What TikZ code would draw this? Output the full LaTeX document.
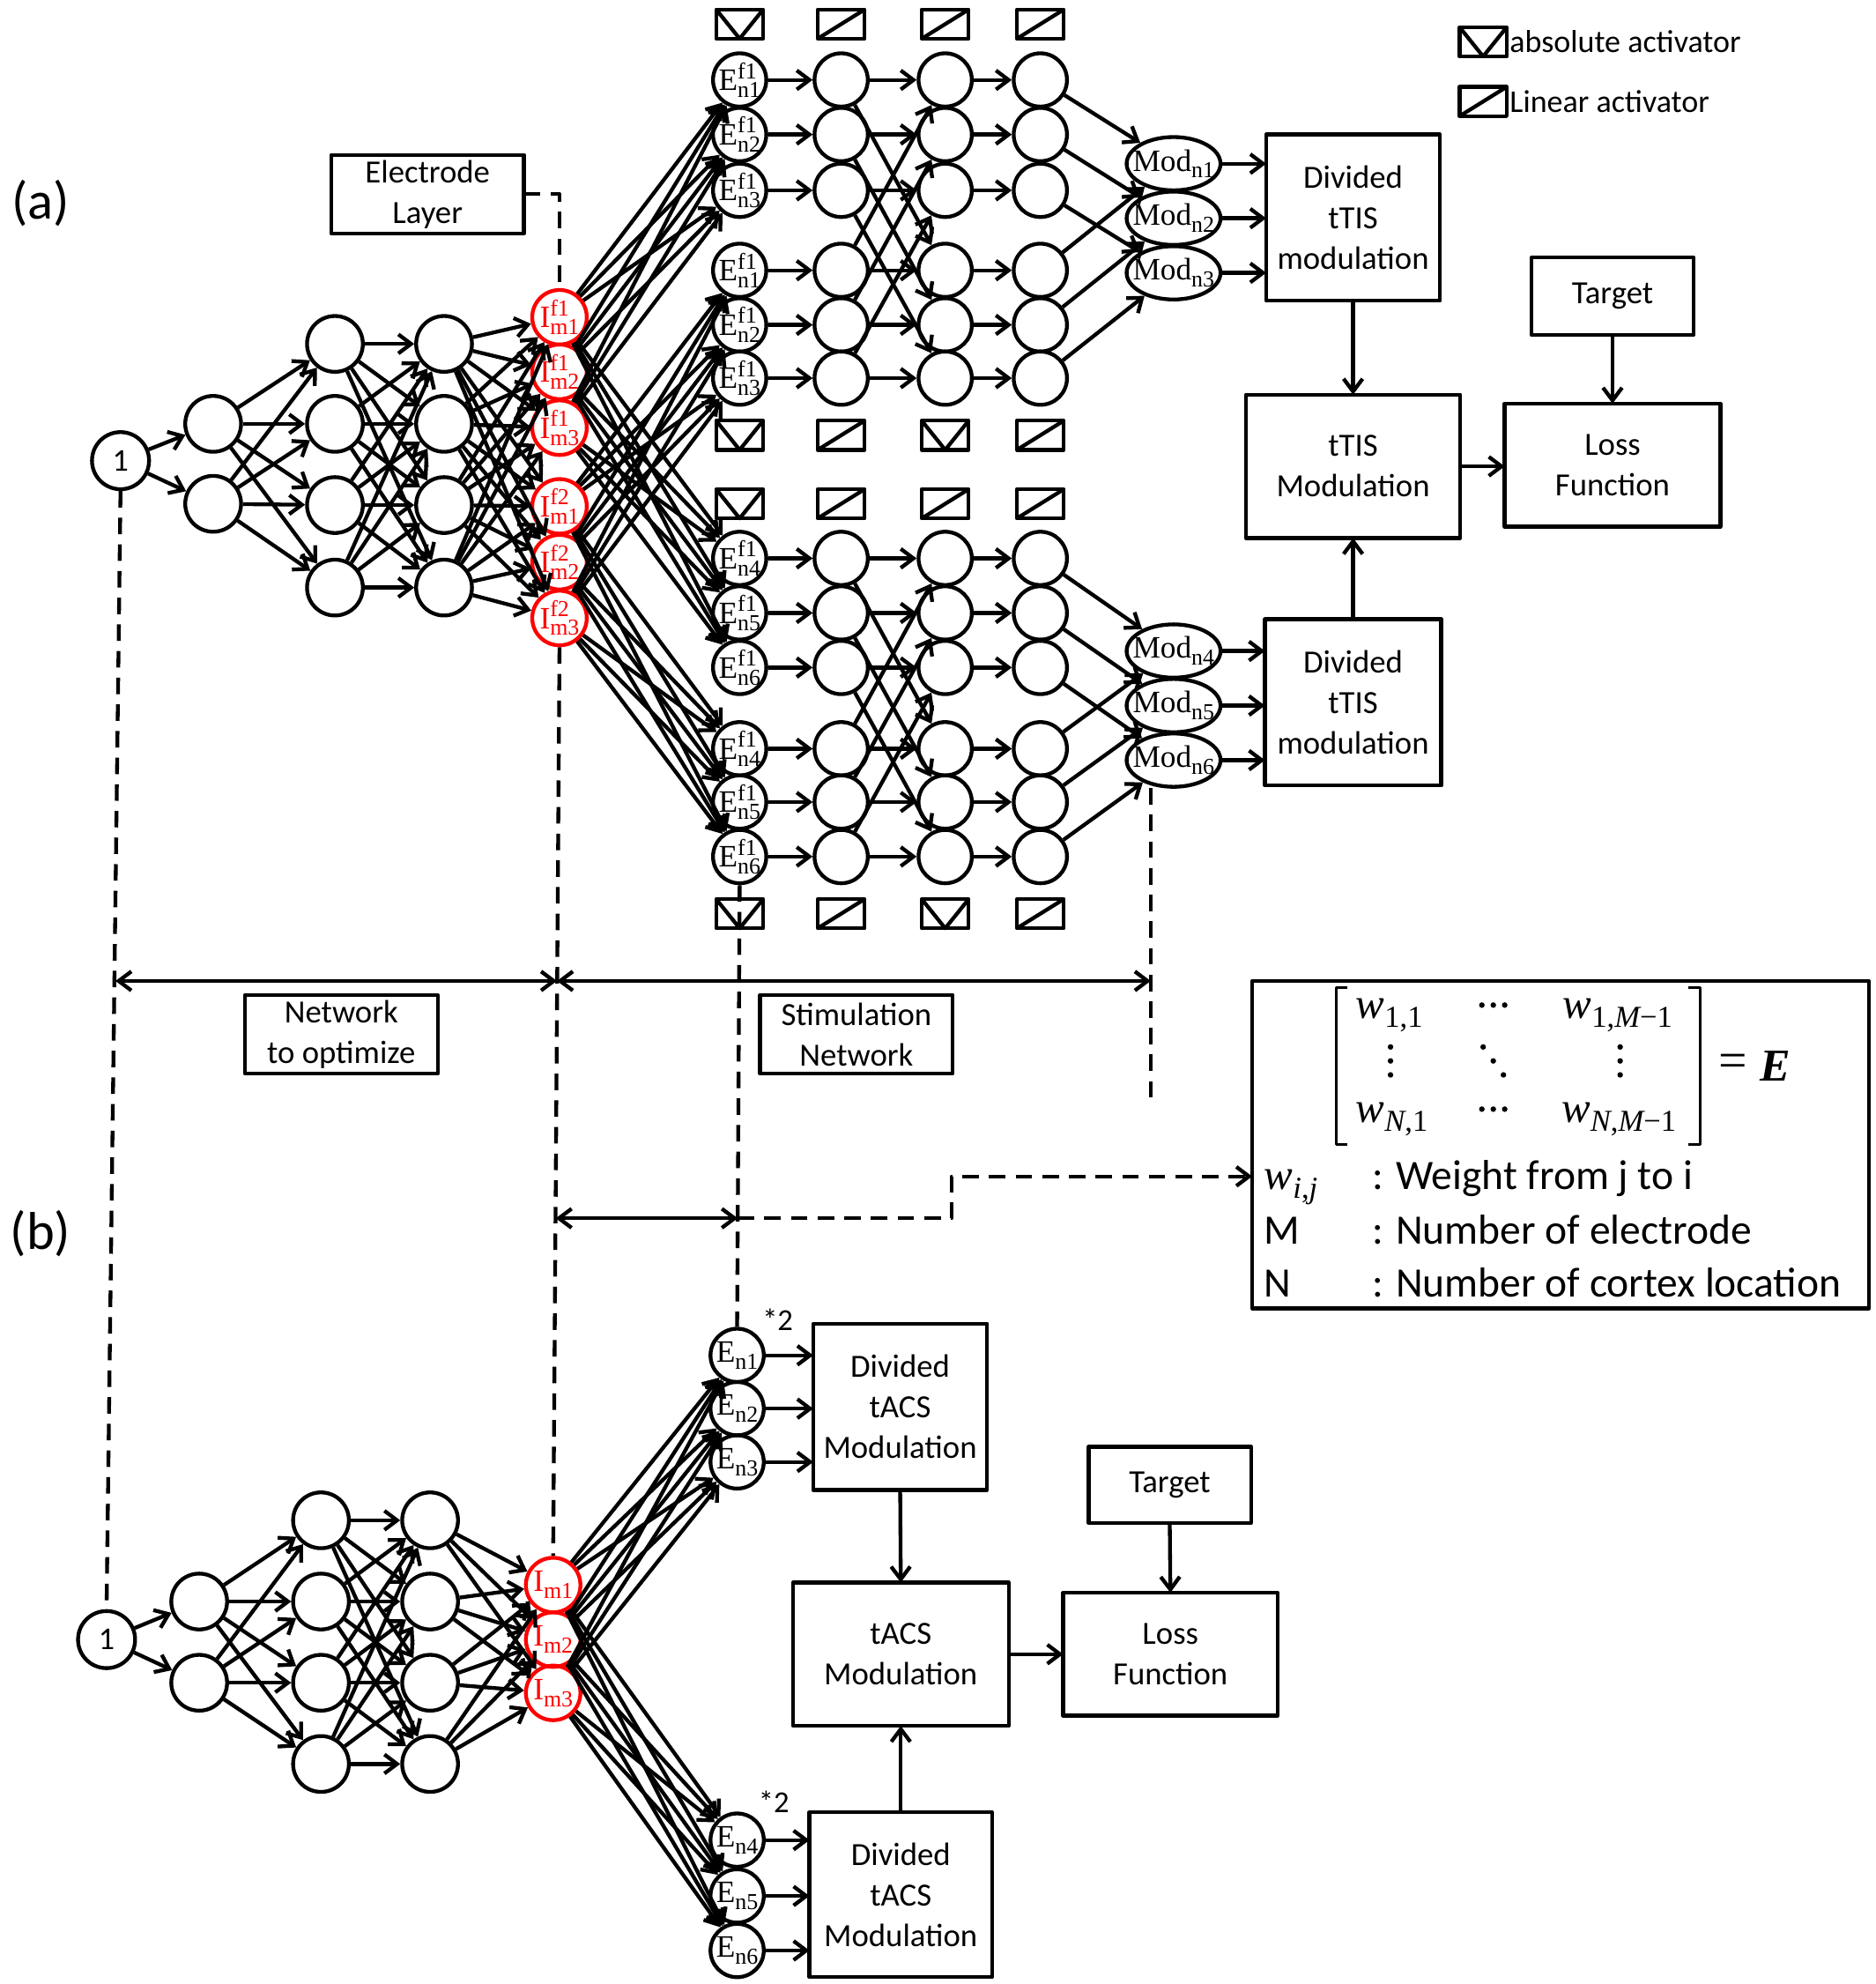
\documentclass[tikz,border=0pt]{standalone}
\usepackage[no-math]{fontspec}
\setmainfont{Carlito}
\newfontfamily\serifl{Liberation Serif}
\usetikzlibrary{arrows.meta,shapes.geometric,calc}
\newcommand{\lmrf}{\serifl}
\newcommand{\bigsz}{\fontsize{24.5}{24.5}\selectfont}
\newcommand{\smsz}{\fontsize{18}{18}\selectfont}
\newcommand{\labSS}[3]{{\lmrf\bigsz #1\rlap{\smsz\raisebox{9.5pt}{#2}}\smsz\raisebox{-5.5pt}{#3}}}
\newcommand{\labS}[2]{{\lmrf\bigsz #1\smsz\raisebox{-5.5pt}{#2}}}
\newcommand{\mathsz}{\fontsize{34}{34}\selectfont}
\newcommand{\subsz}{\fontsize{24}{24}\selectfont}
\newcommand{\wsub}[1]{{\lmrf\mathsz\itshape w\/}{\lmrf\subsz\raisebox{-7pt}{#1}}}
\newcommand{\absact}[2]{\node[actbox] (#1) at (#2) {}; \draw (#1.north west) -- (#1.south) -- (#1.north east);}
\newcommand{\linact}[2]{\node[actbox] (#1) at (#2) {}; \draw (#1.south west) -- (#1.north east);}
\tikzset{
  nfont/.style={font=\fontsize{22}{22}\selectfont},
  neuron/.style={circle, draw, minimum size=44pt, inner sep=-10pt, nfont},
  stim/.style={neuron, minimum size=42pt},
  redn/.style={neuron, draw=red, text=red, minimum size=43pt},
  inp/.style={neuron, minimum size=45pt, font=\fontsize{25}{25}\selectfont},
  modn/.style={ellipse, draw, minimum width=74pt, minimum height=42pt, inner sep=-14pt, nfont},
  box/.style={draw, rectangle, align=center, inner sep=0pt, outer sep=0pt, font=\fontsize{25.5}{32}\selectfont},
  actbox/.style={draw, rectangle, minimum width=37pt, minimum height=23pt, inner sep=0pt, outer sep=0pt},
  dsh/.style={dash pattern=on 13pt off 8pt},
  lbl/.style={font=\fontsize{42}{42}\selectfont, inner sep=0pt},
  legtxt/.style={font=\fontsize{25}{25}\selectfont, inner sep=1pt},
  mtxt/.style={font=\fontsize{33}{33}\selectfont, inner sep=0pt},
  mnode/.style={inner sep=0pt},
  mdot/.style={circle, fill, inner sep=0pt, minimum size=4.4pt},
  startxt/.style={font=\fontsize{24}{24}\selectfont, inner sep=0pt},
}
\begin{document}
\begin{tikzpicture}[x=1pt,y=-1pt,line width=3pt,line join=round,>={Straight Barb[length=10pt,width=15pt]}]
\useasboundingbox (0,0) rectangle (1478,1563.4);

% ---------- panel labels ----------
\node[lbl] (la) at (32,160) {(a)};
\node[lbl] (lb) at (32,972) {(b)};

% ---------- legend ----------
\absact{legabs}{1169,33}
\node[legtxt, anchor=west] (legabstxt) at (legabs.east) {absolute activator};
\linact{leglin}{1169,80}
\node[legtxt, anchor=west] (leglintxt) at (leglin.east) {Linear activator};

% ---------- (a) network to optimize ----------
\node[inp] (a0) at (95,363) {1};
\foreach \y [count=\i] in {334,397} \node[neuron] (aA\i) at (168,\y) {};
\foreach \y [count=\i] in {271,334,398,463} {\node[neuron] (aB\i) at (264,\y) {}; \node[neuron] (aC\i) at (350,\y) {};}
\foreach \y/\f/\m [count=\i] in {250/1/1,293/1/2,337/1/3,399/2/1,443/2/2,487/2/3} \node[redn] (aI\i) at (441,\y) {\labSS{I}{f\f}{m\m}};

\foreach \i in {1,2} \draw[->] (a0) -- (aA\i);
\foreach \i in {1,2} \foreach \j in {1,...,4} \draw[->] (aA\i) -- (aB\j);
\foreach \i in {1,...,4} \foreach \j in {1,...,4} \draw[->] (aB\i) -- (aC\j);
\foreach \i in {1,...,4} \foreach \j in {1,...,6} \draw[->] (aC\i) -- (aI\j);

\node[box, minimum width=152pt, minimum height=62pt] (elec) at (337,153) {Electrode\\Layer};

% ---------- (a) stimulation network ----------
\foreach \y/\n [count=\r] in {63/1,106/2,150/3,213/1,256/2,298/3,440/4,483/5,526/6,590/4,632/5,675/6}
  \node[stim] (s1-\r) at (583,\y) {\labSS{E}{f1}{n\n}};
\foreach \x [count=\c from 2] in {663,745,820}
  \foreach \y [count=\r] in {63,106,150,213,256,298,440,483,526,590,632,675}
    \node[stim] (s\c-\r) at (\x,\y) {};
\foreach \y [count=\i] in {129,172,215,513,556,599} \node[modn] (m\i) at (925,\y) {\labS{Mod}{n\i}};

\absact{tA1}{583,19} \linact{tA2}{663,19} \linact{tA3}{745,19} \linact{tA4}{820,19}
\absact{tB1}{583,343} \linact{tB2}{663,343} \absact{tB3}{745,343} \linact{tB4}{820,343}
\absact{tC1}{583,397} \linact{tC2}{663,397} \linact{tC3}{745,397} \linact{tC4}{820,397}
\absact{tD1}{583,720} \linact{tD2}{663,720} \absact{tD3}{745,720} \linact{tD4}{820,720}

\foreach \i in {1,2,3} \foreach \e in {1,2,3,7,8,9} \draw[->] (aI\i) -- (s1-\e);
\foreach \i in {4,5,6} \foreach \e in {4,5,6,10,11,12} \draw[->] (aI\i) -- (s1-\e);

\foreach \r in {1,...,12} {\draw[->] (s1-\r) -- (s2-\r); \draw[->] (s2-\r) -- (s3-\r); \draw[->] (s3-\r) -- (s4-\r);}
\foreach \a/\b in {1/4,2/5,3/6,4/1,5/2,6/3,7/10,8/11,9/12,10/7,11/8,12/9} \draw[->] (s2-\a) -- (s3-\b);
\foreach \a/\b in {1/1,4/1,2/2,5/2,3/3,6/3,7/4,10/4,8/5,11/5,9/6,12/6} \draw[->] (s4-\a) -- (m\b);

% ---------- (a) modulation blocks ----------
\node[box, minimum width=137pt, minimum height=131pt] (divA) at (1066.5,171.5) {Divided\\tTIS\\modulation};
\node[box, minimum width=169pt, minimum height=113pt] (ttis) at (1066.5,367.5) {tTIS\\Modulation};
\node[box, minimum width=128pt, minimum height=61pt] (tgtA) at (1271,233.5) {Target};
\node[box, minimum width=170pt, minimum height=97pt] (lossA) at (1271,366.5) {Loss\\Function};
\node[box, minimum width=139pt, minimum height=131pt] (divB) at (1066.5,553.5) {Divided\\tTIS\\modulation};

\foreach \i in {1,2,3} \draw[->] (m\i.east) -- (m\i.east -| divA.west);
\foreach \i in {4,5,6} \draw[->] (m\i.east) -- (m\i.east -| divB.west);
\draw[->] (divA.south) -- (ttis.north);
\draw[->] (divB.north) -- (ttis.south);
\draw[->] (ttis.east) -- (ttis.east -| lossA.west);
\draw[->] (tgtA.south) -- (lossA.north);

% ---------- span arrows and labels ----------
\coordinate (ha) at (91,773);
\coordinate (hb) at (439,773);
\coordinate (hc) at (907,773);
\coordinate (rdtop) at (907,621);
\coordinate (rdbot) at (907,870);
\draw[<->] (ha) -- (hb);
\draw[<->] (hb) -- (hc);
\node[box, minimum width=152pt, minimum height=62pt] (netbox) at (269,815) {Network\\to optimize};
\node[box, minimum width=152pt, minimum height=62pt] (stimbox) at (675,815) {Stimulation\\Network};

% ---------- matrix box ----------
\node[box, minimum width=486pt, minimum height=258pt] (mbox) at (1230,902) {};
\draw[line width=2.2pt] (1062,778) -- (1053,778) -- (1053,902) -- (1062,902);
\draw[line width=2.2pt] (1331,778) -- (1340,778) -- (1340,902) -- (1331,902);
\node[mnode] (w11) at (1095,800) {\wsub{1,1}};
\node[mnode] (w1m) at (1275,800) {\wsub{1,{\itshape M}−1}};
\node[mnode] (wn1) at (1097,882) {\wsub{{\itshape N},1}};
\node[mnode] (wnm) at (1276,882) {\wsub{{\itshape N},{\itshape M}−1}};
\foreach \x [count=\k] in {1168,1177,1186} {\node[mdot] (dt\k) at (\x,792) {}; \node[mdot] (db\k) at (\x,874) {};}
\foreach \y [count=\k] in {825,836,847} {\node[mdot] (dl\k) at (1096,\y) {}; \node[mdot] (dr\k) at (1277,\y) {};}
\foreach \x/\y [count=\k] in {1169/825,1177/836,1185/847} \node[mdot] (dd\k) at (\x,\y) {};
\node[mnode, font=\lmrf\fontsize{40}{40}\selectfont] (eqs) at (1366,840) {=};
\node[mnode, font=\lmrf\fontsize{36}{36}\selectfont\bfseries\itshape] (eqE) at (1399,840) {E};
\node[mtxt, anchor=base west] (wij) at (995,937) {\wsub{{\itshape i},{\itshape j}}};
\node[mtxt, anchor=base west] (wtxt) at (1080,937) {: Weight from j to i};
\node[mtxt, anchor=base west] (mM) at (995,980) {M};
\node[mtxt, anchor=base west] (mMt) at (1080,980) {: Number of electrode};
\node[mtxt, anchor=base west] (mN) at (995,1022) {N};
\node[mtxt, anchor=base west] (mNt) at (1080,1022) {: Number of cortex location};

% ---------- (b) network ----------
\node[inp] (b0) at (84,1292) {1};
\foreach \y [count=\i] in {1262,1326} \node[neuron] (bA\i) at (157,\y) {};
\foreach \y [count=\i] in {1198,1262,1326,1390} {\node[neuron] (bB\i) at (253,\y) {}; \node[neuron] (bC\i) at (339,\y) {};}
\foreach \y [count=\i] in {1249,1292,1334} \node[redn] (bI\i) at (436,\y) {\labS{I}{m\i}};
\foreach \y [count=\i] in {1068,1110,1152,1450,1494,1537} \node[stim] (bE\i) at (581,\y) {\labS{E}{n\i}};

\foreach \i in {1,2} \draw[->] (b0) -- (bA\i);
\foreach \i in {1,2} \foreach \j in {1,...,4} \draw[->] (bA\i) -- (bB\j);
\foreach \i in {1,...,4} \foreach \j in {1,...,4} \draw[->] (bB\i) -- (bC\j);
\foreach \i in {1,...,4} \foreach \j in {1,2,3} \draw[->] (bC\i) -- (bI\j);
\foreach \i in {1,2,3} \foreach \j in {1,...,6} \draw[->] (bI\i) -- (bE\j);

\node[startxt] (star1) at (613,1040) {*2};
\node[startxt] (star2) at (610,1420) {*2};

\node[box, minimum width=137pt, minimum height=131pt] (divC) at (709.5,1108.5) {Divided\\tACS\\Modulation};
\node[box, minimum width=170pt, minimum height=113pt] (tacs) at (710,1303.5) {tACS\\Modulation};
\node[box, minimum width=128pt, minimum height=60pt] (tgtB) at (922,1170) {Target};
\node[box, minimum width=169pt, minimum height=97pt] (lossB) at (922.5,1303.5) {Loss\\Function};
\node[box, minimum width=144pt, minimum height=130pt] (divD) at (710,1493) {Divided\\tACS\\Modulation};

\foreach \i in {1,2,3} \draw[->] (bE\i.east) -- (bE\i.east -| divC.west);
\foreach \i in {4,5,6} \draw[->] (bE\i.east) -- (bE\i.east -| divD.west);
\draw[->] (divC.south) -- (tacs.north);
\draw[->] (divD.north) -- (tacs.south);
\draw[->] (tacs.east) -- (tacs.east -| lossB.west);
\draw[->] (tgtB.south) -- (lossB.north);

% ---------- dashed guides ----------
\draw[dsh] (elec.east) -| (aI1.north);
\draw[dsh] (a0.south) -- (b0.north);
\draw[dsh] (aI6.south) -- (bI1.north);
\draw[dsh] (s1-12.south) -- (bE1.north);
\draw[dsh] (rdtop) -- (rdbot);
\coordinate (hd) at (438,960);
\coordinate (he) at (581.5,960);
\coordinate (k1) at (750,960);
\coordinate (k2) at (750,927);
\coordinate (wy) at (0,927);
\draw[<->] (hd) -- (he);
\draw[dsh,->] (he) -- (k1) -- (k2) -- (mbox.west |- wy);
\end{tikzpicture}
\end{document}
